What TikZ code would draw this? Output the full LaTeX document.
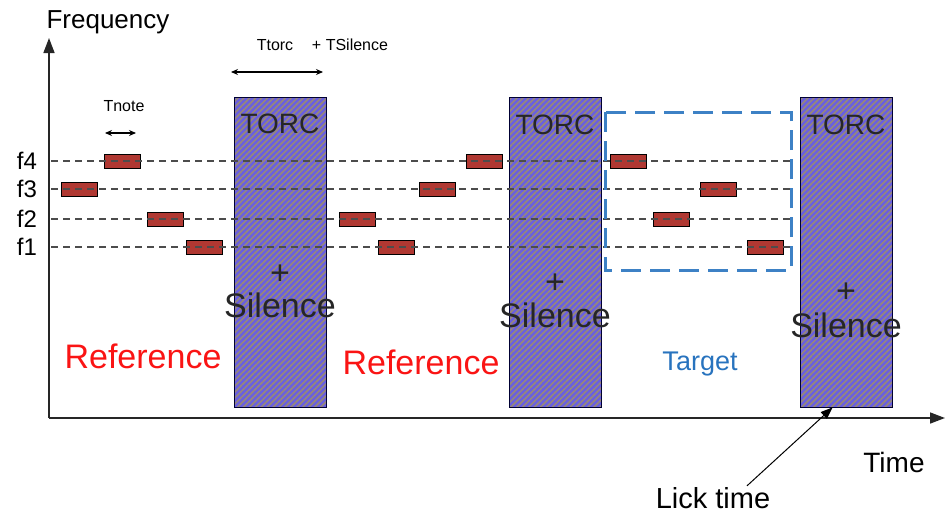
\documentclass[tikz,border=0pt]{standalone}
\usepackage{fontspec}
\setmainfont{Liberation Sans}
\usetikzlibrary{arrows.meta,patterns.meta}

\definecolor{noteRed}{RGB}{176,56,50}
\definecolor{torcBlue}{RGB}{105,95,225}
\definecolor{torcStripe}{RGB}{150,135,125}
\definecolor{targetBlue}{RGB}{40,115,190}
\definecolor{refRed}{RGB}{250,20,20}

\newcommand{\fs}[1]{\fontsize{#1}{#1}\selectfont}

\begin{document}
\begin{tikzpicture}[x=1pt, y=-1pt, >=Stealth,
  axis/.style={line width=1.6pt, black!85, -{Triangle[length=15pt,width=11pt]}},
  level/.style={black!70, line width=1.6pt, dash pattern=on 7pt off 5pt},
  note/.style={draw=black, line width=1pt, fill=noteRed, minimum width=36pt, minimum height=14pt, inner sep=0pt},
  torc/.style={draw=black!80!blue, line width=0.8pt, minimum width=92pt, minimum height=310pt, inner sep=0pt,
    preaction={fill=torcBlue}, pattern={Lines[angle=45, distance=4.2pt, line width=1.7pt]}, pattern color=torcStripe},
  span/.style={{Stealth[length=7pt,width=6pt]}-{Stealth[length=7pt,width=6pt]}, line width=1.2pt, black},
  flabel/.style={font=\fs{24}},
  torctxt/.style={font=\fs{28}, black!85},
  big/.style={font=\fs{34}, black!85},
  small/.style={font=\fs{16}}
]
  \useasboundingbox (0,0) rectangle (945,514);

  % ==========================================
  % AXES
  % ==========================================
  \coordinate (O) at (49,418);
  \coordinate (Ftop) at (49,38);
  \coordinate (Tend) at (945,418);
  \draw[axis] (O) -- (Ftop);
  \draw[axis] (O) -- (Tend);
  \node[font=\fs{26}] (freq) at (108,22) {Frequency};
  \node[font=\fs{28}] (time) at (894,462) {Time};

  % ==========================================
  % TORC + SILENCE BLOCKS
  % ==========================================
  \node[torc] (torc1) at (280,252) {};
  \node[torc] (torc2) at (555,252) {};
  \node[torc] (torc3) at (846,252) {};

  \foreach \b/\p/\s in {1/275/305, 2/284/315, 3/293/325} {
    \node[torctxt] at ([yshift=-28pt]torc\b.north) {TORC};
    \node[big] (plus\b) at (torc\b |- 0,\p) {+};
    \node[big] (sil\b) at (torc\b |- 0,\s) {Silence};
  }

  % ==========================================
  % NOTES (red tones) AND FREQUENCY LEVELS
  % ==========================================
  \foreach \x/\y [count=\i] in {79/189, 122/161, 165/219, 204/247,
                                357/219, 396/247, 437/189, 484/161,
                                628/161, 671/219, 718/189, 765/247}
    \node[note] (n\i) at (\x,\y) {};

  % dashed levels over the notes and the blocks
  \foreach \lab/\y in {f4/161, f3/189, f2/219, f1/247} {
    \node[flabel] (\lab) at (27,\y) {\lab};
    \draw[level] (51,\y) -- (792,\y);
  }

  % Target window
  \draw[targetBlue!90!white, line width=3pt, dash pattern=on 20pt off 9pt]
    (605,112) rectangle (791,270);

  % ==========================================
  % DURATIONS
  % ==========================================
  \coordinate (tnL) at (105,133);
  \coordinate (tnR) at (136,133);
  \draw[span] (tnL) -- (tnR);
  \node[small] (tnote) at (124,106) {Tnote};

  \coordinate (ttL) at (231,72);
  \coordinate (ttR) at (323,72);
  \draw[span] (ttL) -- (ttR);
  \node[small] (ttorc) at (275,45) {Ttorc};
  \node[small] (tsil) at (350,45) {+ TSilence};

  % ==========================================
  % LABELS
  % ==========================================
  \node[font=\fs{34}, text=refRed] (ref1) at (143,356) {Reference};
  \node[font=\fs{34}, text=refRed] (ref2) at (421,362) {Reference};
  \node[font=\fs{27}, text=targetBlue] (target) at (700,364) {Target};

  \node[font=\fs{29}] (lick) at (713,498) {Lick time};
  \draw[line width=1pt, -{Triangle[length=12pt,width=9pt]}]
    ([xshift=34pt,yshift=-2pt]lick.north) -- ([xshift=33pt]torc3.south west);

\end{tikzpicture}
\end{document}
